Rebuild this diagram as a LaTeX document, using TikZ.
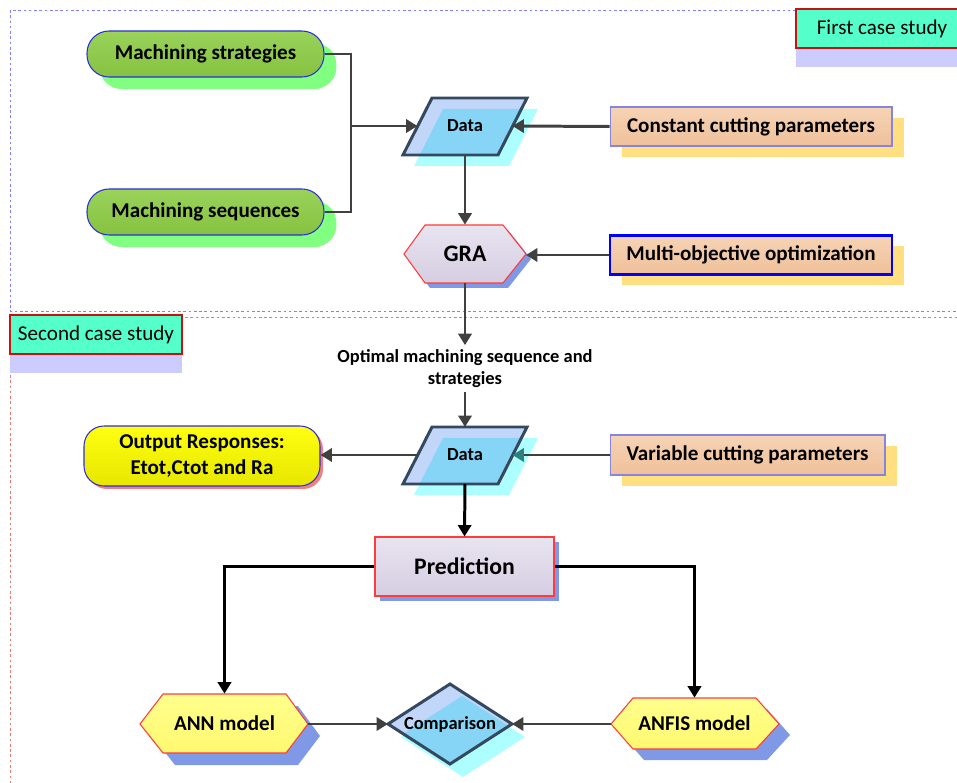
\documentclass[tikz,border=0pt]{standalone}
\usepackage{fontspec}
\setmainfont{Carlito}
\usetikzlibrary{arrows.meta,shadows,calc}
\definecolor{mint}{HTML}{55FFC9}
\definecolor{casered}{HTML}{CC1010}
\definecolor{lav}{HTML}{CCCCFF}
\definecolor{gtop}{HTML}{9AD25B}
\definecolor{gbot}{HTML}{86C240}
\definecolor{gborder}{HTML}{2E2ED8}
\definecolor{gshadow}{HTML}{80FF80}
\definecolor{ptop}{HTML}{F6D3B6}
\definecolor{pbot}{HTML}{EFC09A}
\definecolor{pborder}{HTML}{8585E0}
\definecolor{pshadow}{HTML}{FFDF80}
\definecolor{dout}{HTML}{C2D6FA}
\definecolor{din}{HTML}{86D5F6}
\definecolor{dshadow}{HTML}{ADFFFF}
\definecolor{dborder}{HTML}{34495E}
\definecolor{ltop}{HTML}{E8E4F0}
\definecolor{lbot}{HTML}{D5CDE1}
\definecolor{rborder}{HTML}{FF3B3B}
\definecolor{bshadow}{HTML}{7F99E6}
\definecolor{ytop}{HTML}{FFFF8C}
\definecolor{ybot}{HTML}{FFF870}
\definecolor{otop}{HTML}{FFFF10}
\definecolor{obot}{HTML}{E6E600}
\definecolor{oshadow}{HTML}{F08080}
\definecolor{conncol}{HTML}{404040}
\definecolor{tealhead}{HTML}{2F7F7F}
\definecolor{dashblue}{HTML}{8080FF}
\definecolor{dashred}{HTML}{E07878}
\begin{document}
\begin{tikzpicture}[x=0.02cm,y=-0.02cm,
  bluedash/.style={draw=dashblue,line width=0.5pt,dash pattern=on 1.5pt off 1.5pt},
  reddash/.style={draw=dashred,line width=0.5pt,dash pattern=on 1.5pt off 1.5pt},
  casebox/.style={rectangle,draw=casered,line width=0.8pt,fill=mint,minimum width=3.44cm,
    minimum height=0.78cm,inner sep=0pt,font=\fontsize{12}{14}\selectfont,
    drop shadow={shadow xshift=0cm,shadow yshift=-0.38cm,fill=lav,opacity=1}},
  greenbox/.style={rectangle,rounded corners=0.44cm,draw=gborder,line width=0.6pt,
    top color=gtop,bottom color=gbot,minimum width=4.74cm,minimum height=0.92cm,inner sep=0pt,
    font=\fontsize{12}{14}\selectfont\bfseries,
    drop shadow={shadow xshift=0.25cm,shadow yshift=-0.24cm,fill=gshadow,opacity=1}},
  peachbox/.style={rectangle,draw=pborder,line width=0.6pt,top color=ptop,bottom color=pbot,
    minimum width=5.64cm,minimum height=0.78cm,inner sep=0pt,
    font=\fontsize{12}{14}\selectfont\bfseries,
    drop shadow={shadow xshift=0.24cm,shadow yshift=-0.22cm,fill=pshadow,opacity=1}},
  predbox/.style={rectangle,draw=rborder,line width=0.6pt,top color=ltop,bottom color=lbot,
    minimum width=3.58cm,minimum height=1.18cm,inner sep=0pt,
    font=\fontsize{13.5}{16}\selectfont\bfseries,
    drop shadow={shadow xshift=0.1cm,shadow yshift=-0.1cm,fill=bshadow,opacity=1}},
  outbox/.style={rectangle,rounded corners=0.4cm,draw=gborder,line width=0.6pt,top color=otop,
    bottom color=obot,minimum width=4.72cm,minimum height=1.2cm,inner sep=0pt,align=center,
    font=\fontsize{12}{14.5}\selectfont\bfseries,
    drop shadow={shadow xshift=0.06cm,shadow yshift=-0.06cm,fill=oshadow,opacity=1}},
  plain/.style={rectangle,inner sep=0pt,font=\fontsize{12}{14}\selectfont\bfseries},
  small/.style={rectangle,inner sep=0pt,font=\fontsize{10.5}{13}\selectfont\bfseries},
  lineconn/.style={draw=conncol,line width=1.7pt},
  arrg/.style={lineconn,-{Triangle[length=6.5pt,width=7.5pt]}},
  arrk/.style={draw=black,line width=1.7pt,-{Triangle[length=6.5pt,width=7.5pt]}},
  databorder/.style={draw=dborder,line width=1.7pt,line join=miter},
  hexborder/.style={draw=rborder,line width=0.6pt}
]
\useasboundingbox (0,0) rectangle (957,783);
% case study frames
\draw[bluedash] (10,10) rectangle (990,311);
\draw[reddash] (10,317) rectangle (990,820);
\node[casebox] (c1) at (882,28.5) {First case study};
\node[casebox] (c2) at (96,334.5) {Second case study};

% green boxes
\node[greenbox] (ms) at (205.5,54) {Machining strategies};
\node[greenbox] (mq) at (205.5,212) {Machining sequences};

% peach boxes
\node[peachbox] (ccp) at (751,126.5) {Constant cutting parameters};
\node[peachbox,draw=blue,line width=1.5pt] (moo) at (751,255) {Multi-objective optimization};
\node[peachbox,minimum width=5.5cm,minimum height=0.8cm] (vcp) at (747.5,455) {Variable cutting parameters};

% Data 1
\begin{scope}[shift={(11,11)}]
\fill[dshadow] (432,98) -- (527,98) -- (498,155) -- (403,155) -- cycle;
\end{scope}
\fill[dout] (432,98) -- (527,98) -- (498,155) -- (403,155) -- cycle;
\begin{scope}
\clip (432,98) -- (527,98) -- (498,155) -- (403,155) -- cycle;
\fill[din] (443,109) -- (538,109) -- (509,166) -- (414,166) -- cycle;
\end{scope}
\draw[databorder] (432,98) -- (527,98) -- (498,155) -- (403,155) -- cycle;
\node[small] (d1) at (465,126) {Data};
\coordinate (d1w) at (417.5,126);
\coordinate (d1e) at (512.5,126);
\coordinate (d1s) at (465,155);

% Data 2
\begin{scope}[shift={(11,11)}]
\fill[dshadow] (432,427) -- (527,427) -- (498,484) -- (403,484) -- cycle;
\end{scope}
\fill[dout] (432,427) -- (527,427) -- (498,484) -- (403,484) -- cycle;
\begin{scope}
\clip (432,427) -- (527,427) -- (498,484) -- (403,484) -- cycle;
\fill[din] (443,438) -- (538,438) -- (509,495) -- (414,495) -- cycle;
\end{scope}
\draw[databorder] (432,427) -- (527,427) -- (498,484) -- (403,484) -- cycle;
\node[small] (d2) at (465,455) {Data};
\coordinate (d2w) at (417.5,455);
\coordinate (d2e) at (512.5,455);
\coordinate (d2n) at (465,427);
\coordinate (d2s) at (465,484);

% GRA hexagon
\begin{scope}[shift={(5,5)}]
\fill[bshadow] (425,225) -- (503,225) -- (526,254) -- (503,283) -- (425,283) -- (404,254) -- cycle;
\end{scope}
\path[top color=ltop,bottom color=lbot] (425,225) -- (503,225) -- (526,254) -- (503,283) -- (425,283) -- (404,254) -- cycle;
\draw[hexborder] (425,225) -- (503,225) -- (526,254) -- (503,283) -- (425,283) -- (404,254) -- cycle;
\node[plain,font=\fontsize{13.5}{16}\selectfont\bfseries,minimum width=1.56cm,minimum height=1.16cm] (gra) at (465,254) {GRA};
\coordinate (grae) at (526,254);

% label
\node[small,align=center,inner sep=2pt] (lab) at (465,368.5) {Optimal machining sequence and\\strategies};

% output responses
\node[outbox] (out) at (202,456) {Output Responses:\\Etot,Ctot and Ra};

% prediction
\node[predbox] (pred) at (464.5,566.5) {Prediction};

% ANN hexagon
\begin{scope}[shift={(12,12)}]
\fill[bshadow] (163,694) -- (286,694) -- (308,724) -- (286,753) -- (163,753) -- (140,724) -- cycle;
\end{scope}
\path[top color=ytop,bottom color=ybot] (163,694) -- (286,694) -- (308,724) -- (286,753) -- (163,753) -- (140,724) -- cycle;
\draw[hexborder] (163,694) -- (286,694) -- (308,724) -- (286,753) -- (163,753) -- (140,724) -- cycle;
\node[plain,minimum width=2.46cm,minimum height=1.18cm] (ann) at (224.5,723.5) {ANN model};
\coordinate (annr) at (308,724);

% ANFIS hexagon
\begin{scope}[shift={(11,11)}]
\fill[bshadow] (633,698) -- (756,698) -- (779,724) -- (756,749) -- (633,749) -- (611,724) -- cycle;
\end{scope}
\path[top color=ytop,bottom color=ybot] (633,698) -- (756,698) -- (779,724) -- (756,749) -- (633,749) -- (611,724) -- cycle;
\draw[hexborder] (633,698) -- (756,698) -- (779,724) -- (756,749) -- (633,749) -- (611,724) -- cycle;
\node[plain,minimum width=2.46cm,minimum height=1.02cm] (anfis) at (694.5,723.5) {ANFIS model};
\coordinate (anfisl) at (611,724);

% Comparison diamond
\begin{scope}[shift={(13,13)}]
\fill[dshadow] (450,684) -- (512,724) -- (450,764) -- (388,724) -- cycle;
\end{scope}
\fill[dout] (450,684) -- (512,724) -- (450,764) -- (388,724) -- cycle;
\begin{scope}
\clip (450,684) -- (512,724) -- (450,764) -- (388,724) -- cycle;
\fill[din] (462,696) -- (524,736) -- (462,776) -- (400,736) -- cycle;
\end{scope}
\draw[databorder] (450,684) -- (512,724) -- (450,764) -- (388,724) -- cycle;
\node[small] (comp) at (450,724) {Comparison};
\coordinate (compw) at (388,724);
\coordinate (compe) at (512,724);

% connectors
\coordinate (jn) at (351,126);
\draw[lineconn] (ms.east) -| (jn) |- (mq.east);
\draw[arrg] (jn) -- (d1w);
\draw[arrg] (ccp.west) -- (d1e);
\draw[arrg] (d1s) -- (gra.north);
\draw[arrg] (moo.west) -- (grae |- moo.west);
\draw[arrg] (gra.south) -- (lab.north);
\draw[arrg] (lab.south) -- (d2n);
\draw[arrg] (d2w) -- (d2w -| out.east);
\draw[lineconn,-{Triangle[length=6.5pt,width=7.5pt,color=tealhead]}] (vcp.west) -- (d2e);
\draw[arrk] (d2s) -- (pred.north);
\draw[arrk] (pred.west) -| (ann.north);
\draw[arrk] (pred.east) -| (anfis.north);
\draw[arrg] (annr) -- (compw);
\draw[arrg] (anfisl) -- (compe);
\end{tikzpicture}
\end{document}
